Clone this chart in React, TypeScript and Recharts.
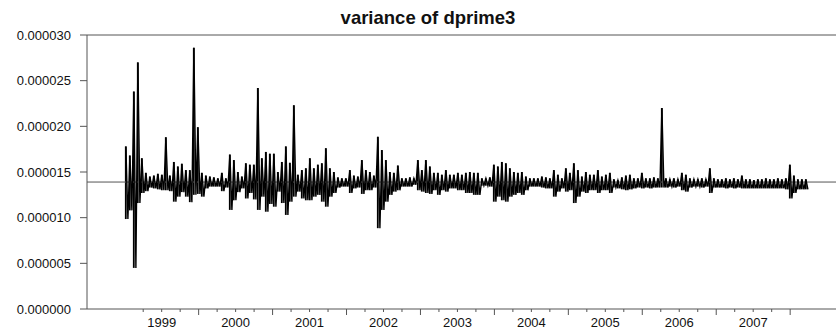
import React from 'react';
import { ComposedChart, Line, Bar, XAxis, YAxis, ReferenceLine } from 'recharts';

// values in units of 1e-6, one upper and one lower reading per ~20 calendar days
const upperE6 = [
  17.8, 16.8, 23.8, 27.0, 16.5, 14.9, 14.5, 14.6, 14.8, 14.7,
  18.8, 14.6, 16.1, 15.6, 15.9, 15.2, 15.2, 28.6, 19.9, 14.9,
  14.6, 14.5, 14.4, 14.3, 14.9, 14.3, 16.9, 16.3, 15.0, 14.5,
  15.95, 15.8, 15.8, 24.2, 16.5, 17.2, 17.0, 17.0, 15.0, 16.1,
  17.8, 16.0, 22.3, 14.7, 15.2, 15.4, 16.5, 15.4, 15.8, 15.95,
  17.6, 15.4, 15.0, 14.4, 14.3, 14.3, 15.2, 14.6, 14.5, 16.3,
  15.2, 15.0, 14.6, 18.85, 17.4, 16.3, 15.0, 14.9, 15.7, 14.3,
  14.3, 14.4, 14.3, 16.3, 15.2, 16.3, 15.6, 14.9, 14.9, 14.7,
  15.2, 14.7, 14.7, 14.9, 14.7, 14.9, 15.0, 14.9, 14.9, 14.3,
  14.3, 14.4, 15.8, 15.6, 16.1, 15.95, 15.4, 15.0, 14.9, 15.0,
  14.5, 14.3, 14.3, 14.3, 14.5, 14.4, 14.3, 15.2, 14.7, 14.3,
  15.4, 14.9, 15.95, 15.2, 14.5, 15.0, 14.7, 14.7, 15.2, 14.5,
  14.7, 14.9, 14.2, 14.1, 14.4, 14.6, 14.7, 14.3, 14.3, 14.9,
  14.3, 14.3, 14.4, 14.3, 22.0, 14.3, 14.2, 14.3, 14.2, 14.9,
  14.7, 14.3, 14.2, 14.2, 14.3, 14.2, 15.4, 14.3, 14.2, 14.2,
  14.3, 14.2, 14.3, 14.2, 14.6, 14.2, 14.2, 14.1, 14.2, 14.2,
  14.3, 14.2, 14.2, 14.3, 14.2, 14.3, 15.8, 14.6, 14.2, 14.2, 14.2,
];

const lowerE6 = [
  9.85, 10.8, 4.5, 11.6, 12.7, 12.9, 13.3, 13.2, 13.1, 13.0,
  13.0, 12.9, 11.75, 12.3, 12.8, 12.3, 11.7, 12.5, 12.6, 12.3,
  13.2, 13.4, 13.4, 13.4, 12.9, 13.3, 10.85, 11.9, 12.8, 13.2,
  12.1, 12.7, 12.0, 10.85, 12.3, 10.65, 11.5, 11.2, 12.85, 11.6,
  10.3, 11.75, 12.3, 12.85, 12.1, 11.9, 11.9, 12.3, 12.5, 11.75,
  11.2, 12.3, 12.7, 13.3, 13.4, 13.4, 12.7, 13.2, 13.3, 12.6,
  13.0, 13.0, 13.3, 8.85, 10.85, 11.75, 12.5, 12.85, 13.0, 13.4,
  13.4, 13.4, 13.6, 13.0, 12.85, 12.7, 12.6, 13.0, 12.5, 13.0,
  12.85, 13.2, 13.2, 13.0, 13.0, 12.7, 12.7, 12.5, 12.5, 13.5,
  13.5, 13.4, 11.75, 12.3, 11.9, 11.75, 12.3, 12.5, 12.7, 12.5,
  13.0, 13.4, 13.4, 13.4, 13.3, 13.2, 13.2, 12.3, 12.85, 13.2,
  12.85, 13.0, 11.6, 12.3, 12.85, 12.7, 13.0, 13.0, 12.7, 13.0,
  13.0, 12.7, 13.3, 13.2, 13.1, 13.0, 13.1, 13.2, 13.3, 13.2,
  13.3, 13.2, 13.3, 13.3, 13.3, 13.3, 13.4, 13.3, 13.4, 13.0,
  12.85, 13.3, 13.4, 13.4, 13.3, 13.4, 12.7, 13.3, 13.3, 13.3,
  13.2, 13.3, 13.2, 13.3, 13.2, 13.2, 13.2, 13.2, 13.2, 13.2,
  13.2, 13.2, 13.2, 13.2, 13.2, 13.1, 12.1, 12.7, 13.1, 13.1, 13.1,
];

const meanValue = 0.0000139;
const yTicks = [0, 0.000005, 0.00001, 0.000015, 0.00002, 0.000025, 0.00003];
const yearLabels = ['1999', '2000', '2001', '2002', '2003', '2004', '2005', '2006', '2007'];

const START = 1999.016; // first observation (fraction of year)
const STEP = 0.0541;    // years per reading pair

// each reading pair: the upper point carries the [low, high] range for the bar
const data = upperE6.flatMap((hi, i) => [
  { t: START + i * STEP, v: hi / 1e6, range: [lowerE6[i] / 1e6, hi / 1e6] },
  { t: START + i * STEP + STEP / 2, v: lowerE6[i] / 1e6, range: null },
]);

// quarter ticks from 1999Q2 to 2008Q1
const quarterTicks: number[] = [];
yearLabels.forEach((y) => {
  const yr = Number(y);
  quarterTicks.push(yr + 0.25, yr + 0.5, yr + 0.75, yr + 1);
});

const FONT = '"Liberation Sans", Arial, sans-serif';
const AXIS = '#555';

const QuarterTick = (props: any) => {
  const { x, y, payload } = props;
  const v: number = payload.value;
  const isYear = Math.abs(v - Math.round(v)) < 1e-6;
  const isMid = Math.abs(v - Math.floor(v) - 0.5) < 1e-6;
  return (
    <g>
      <line x1={x} x2={x} y1={y} y2={y + (isYear ? 6 : 3)} stroke={AXIS} strokeWidth={1} />
      {isMid && (
        <text x={x} y={y + 18} textAnchor="middle" fontSize={13} fontFamily={FONT} fill="#111">
          {String(Math.floor(v))}
        </text>
      )}
    </g>
  );
};

export default function App() {
  return (
    <div style={{ position: 'absolute', left: 0, top: 0, width: 836, height: 334, background: '#fff' }}>
      <ComposedChart width={836} height={334} data={data} margin={{ top: 35, right: 0, bottom: 0, left: 0 }}>
        <text x={428} y={24} textAnchor="middle" fontSize={18.5} fontWeight="bold" fontFamily={FONT} fill="#111">
          variance of dprime3
        </text>
        <XAxis
          dataKey="t"
          type="number"
          domain={[1998.49, 2008.62]}
          ticks={quarterTicks}
          interval={0}
          height={25}
          tickLine={false}
          tickSize={0}
          tickMargin={0}
          axisLine={{ stroke: AXIS }}
          tick={<QuarterTick />}
        />
        <YAxis
          type="number"
          domain={[0, 0.00003]}
          ticks={yTicks}
          width={87}
          tickSize={7}
          tickMargin={9}
          axisLine={{ stroke: AXIS }}
          tickLine={{ stroke: AXIS }}
          tick={{ fontSize: 13, fontFamily: FONT, fill: '#111' }}
          tickFormatter={(v: number) => v.toFixed(6)}
        />
        <ReferenceLine y={0.00003} stroke={AXIS} />
        <ReferenceLine y={meanValue} stroke={AXIS} />
        <Bar dataKey="range" fill="#000" barSize={3} isAnimationActive={false} />
        <Line
          type="linear"
          dataKey="v"
          stroke="#000"
          strokeWidth={1.4}
          dot={false}
          activeDot={false}
          isAnimationActive={false}
        />
      </ComposedChart>
    </div>
  );
}
